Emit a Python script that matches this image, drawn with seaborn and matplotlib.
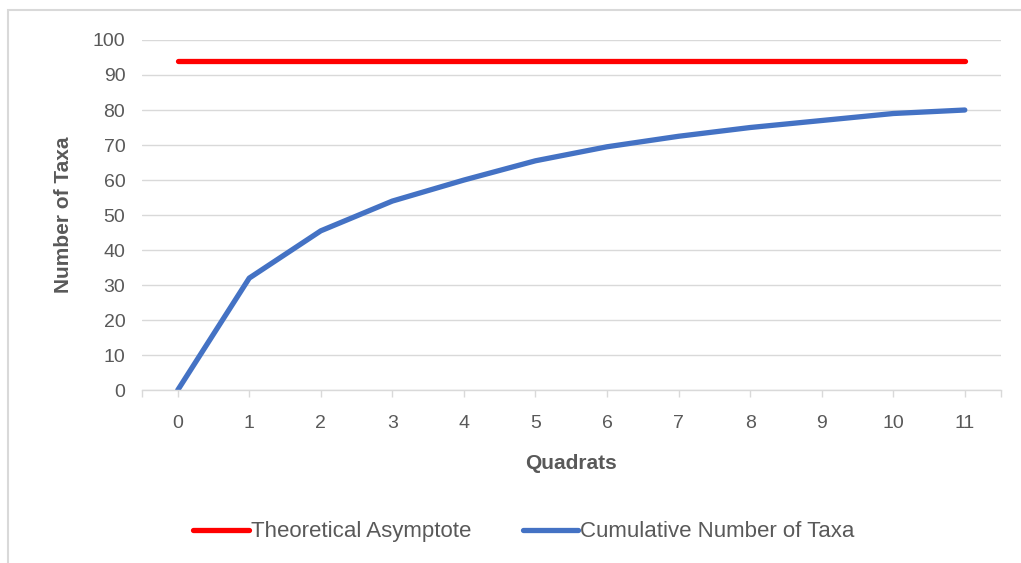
import pandas as pd
import numpy as np
import matplotlib.pyplot as plt
import seaborn as sns
from matplotlib.patches import Rectangle

# species accumulation curve
quadrats = [0, 1, 2, 3, 4, 5, 6, 7, 8, 9, 10, 11]
cumulative_taxa = [0, 32, 45.5, 54, 60, 65.5, 69.5, 72.5, 75, 77, 79, 80]
asymptote = [94, 94, 94, 94, 94, 94, 94, 94, 94, 94, 94, 94]
y_ticks = [0, 10, 20, 30, 40, 50, 60, 70, 80, 90, 100]

df = pd.DataFrame({"Quadrats": quadrats,
                   "Cumulative Number of Taxa": cumulative_taxa,
                   "Theoretical Asymptote": asymptote})

sns.set_style("white")
plt.rcParams['font.family'] = ['Liberation Sans', 'DejaVu Sans']

grey = "#595959"
fig = plt.figure(figsize=(10.21, 5.63), dpi=100)
ax = fig.add_axes([0.139, 0.307, 0.841, 0.622])

sns.lineplot(x="Quadrats", y="Theoretical Asymptote", data=df, ax=ax,
             color="#FF0000", linewidth=3.8, label="Theoretical Asymptote",
             solid_capstyle="round")
sns.lineplot(x="Quadrats", y="Cumulative Number of Taxa", data=df, ax=ax,
             color="#4472C4", linewidth=3.8, label="Cumulative Number of Taxa",
             solid_capstyle="round", solid_joinstyle="round")

ax.set_xlim(-0.5, 11.5)
ax.set_ylim(0, 100)
ax.set_yticks(y_ticks)
ax.set_xticks(quadrats)
ax.set_xticks([-0.5, 11.5], minor=True)
ax.yaxis.grid(True, color="#D9D9D9", linewidth=1.0)
ax.set_axisbelow(True)
for s in ["top", "right", "left"]:
    ax.spines[s].set_visible(False)
ax.spines["bottom"].set_color("#D9D9D9")
ax.spines["bottom"].set_linewidth(1.0)
ax.tick_params(axis="y", length=0, pad=12, labelsize=14, labelcolor=grey)
ax.tick_params(axis="x", which="both", direction="out", length=5, width=1,
               color="#D9D9D9", bottom=True, pad=13, labelsize=14, labelcolor=grey)

ax.set_xlabel("Quadrats", fontsize=15, fontweight="bold", color=grey, labelpad=16)
ax.set_ylabel("Number of Taxa", fontsize=15, fontweight="bold", color=grey, labelpad=14)

ax.legend(loc="center", bbox_to_anchor=(0.445, -0.405), ncol=2, frameon=False,
          prop={"size": 16, "weight": "medium"}, handlelength=2.5,
          handletextpad=0.1, columnspacing=2.3, labelcolor=grey)

# chart frame like the spreadsheet export
fig.add_artist(Rectangle((8 / 1021, -0.1), 1.2, 1 - 10 / 563 + 0.1,
                         transform=fig.transFigure, fill=False,
                         edgecolor="#D9D9D9", linewidth=1.5))

fig.savefig("out.png", dpi=100, facecolor="white")
